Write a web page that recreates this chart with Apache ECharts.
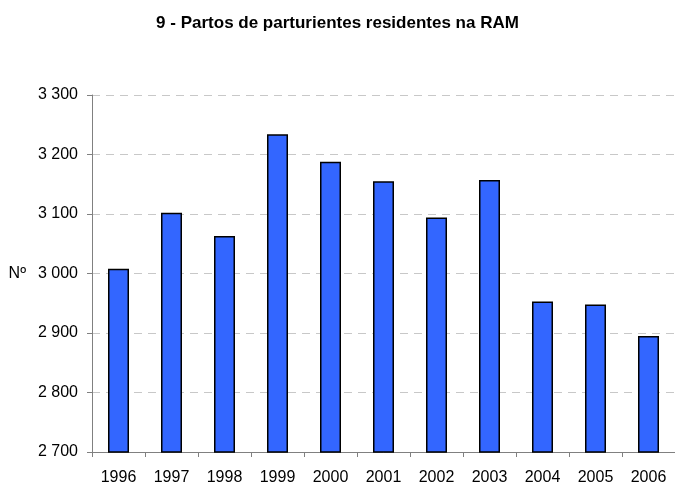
<!DOCTYPE html>
<html>
<head>
<meta charset="utf-8" />
<title>Partos de parturientes residentes na RAM</title>
<script src="https://cdn.jsdelivr.net/npm/echarts@6/dist/echarts.min.js"></script>
<style>
html, body { margin: 0; padding: 0; background: #fff; }
#main { width: 675px; height: 485px; }
</style>
</head>
<body>
<div id="main"></div>
<script>
var anos = ['1996', '1997', '1998', '1999', '2000', '2001', '2002', '2003', '2004', '2005', '2006'];
var partos = [3008, 3102, 3063, 3234, 3188, 3155, 3094, 3157, 2953, 2948, 2895];

var chart = echarts.init(document.getElementById('main'));

function fmt(v) {
  return String(v).replace(/\B(?=(\d{3})+(?!\d))/g, ' ');
}

chart.setOption({
  animation: false,
  textStyle: { fontFamily: 'Liberation Sans, Arial, sans-serif' },
  title: {
    text: '9 - Partos de parturientes residentes na RAM',
    left: 'center',
    top: 10,
    textStyle: { fontSize: 17, fontWeight: 'bold', color: '#000' }
  },
  grid: { left: 92, right: 0, top: 95, bottom: 33, outerBoundsMode: 'none' },
  xAxis: {
    type: 'category',
    data: anos,
    axisLine: { lineStyle: { color: '#808080', width: 1 } },
    axisTick: { show: true, length: 5, lineStyle: { color: '#808080' } },
    axisLabel: { color: '#000', fontSize: 16, margin: 18 }
  },
  yAxis: {
    type: 'value',
    min: 2700,
    max: 3300,
    interval: 100,
    name: 'Nº',
    nameLocation: 'middle',
    nameRotate: 0,
    nameGap: 66,
    nameTextStyle: { color: '#000', fontSize: 16 },
    axisLine: { show: true, lineStyle: { color: '#808080', width: 1 } },
    axisTick: { show: true, length: 5, lineStyle: { color: '#808080' } },
    axisLabel: { color: '#000', fontSize: 16, margin: 14, formatter: fmt },
    splitLine: { lineStyle: { color: '#c8c8c8', type: [8, 6] } }
  },
  series: [{
    type: 'bar',
    data: partos,
    barWidth: 21,
    itemStyle: { color: '#3366ff', borderColor: '#000', borderWidth: 1.5 }
  }]
});
</script>
</body>
</html>
